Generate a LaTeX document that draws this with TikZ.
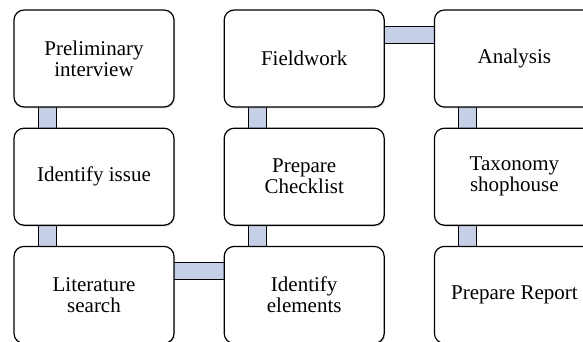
\documentclass[tikz,border=0pt]{standalone}
\usepackage{fontspec}
\setmainfont{Liberation Serif}
\usetikzlibrary{positioning,shadows,backgrounds}

\definecolor{linkblue}{RGB}{197,208,230}

\tikzset{
	stepbox/.style={draw, line width=1.2pt, rounded corners=10pt, fill=white,
		minimum width=160pt, minimum height=97pt, align=center,
		font=\fontsize{21}{21}\selectfont,
		drop shadow={shadow xshift=1pt, shadow yshift=-1.5pt, opacity=0.3}},
	link/.style={draw, line width=1.2pt, fill=linkblue}
}

\begin{document}
\begin{tikzpicture}[x=1pt,y=-1pt]

	\useasboundingbox (0,0) rectangle (583,342);

	% first column
	\node[stepbox] (prelim) at (94,58.5) {Preliminary\\interview};
	\node[stepbox, below=20pt of prelim] (issue) {Identify issue};
	\node[stepbox, below=20pt of issue] (lit) {Literature\\search};

	% second column
	\node[stepbox, right=49pt of prelim] (field) {Fieldwork};
	\node[stepbox, below=20pt of field] (check) {Prepare\\Checklist};
	\node[stepbox, below=20pt of check] (elem) {Identify\\elements};

	% third column
	\node[stepbox, right=49pt of field] (anal) {Analysis};
	\node[stepbox, below=20pt of anal] (taxo) {Taxonomy\\shophouse};
	\node[stepbox, below=20pt of taxo] (report) {Prepare Report};

	% links between the boxes
	\begin{scope}[on background layer]
		\draw[link] ([shift={(25pt,5pt)}]prelim.south west) rectangle ([shift={(43pt,-5pt)}]issue.north west);
		\draw[link] ([shift={(25pt,5pt)}]issue.south west) rectangle ([shift={(43pt,-5pt)}]lit.north west);
		\draw[link] ([shift={(-5pt,-17pt)}]lit.north east) rectangle ([shift={(5pt,-34pt)}]elem.north west);
		\draw[link] ([shift={(25pt,-5pt)}]elem.north west) rectangle ([shift={(43pt,5pt)}]check.south west);
		\draw[link] ([shift={(25pt,-5pt)}]check.north west) rectangle ([shift={(43pt,5pt)}]field.south west);
		\draw[link] ([shift={(-5pt,-17pt)}]field.north east) rectangle ([shift={(5pt,-34pt)}]anal.north west);
		\draw[link] ([shift={(25pt,5pt)}]anal.south west) rectangle ([shift={(43pt,-5pt)}]taxo.north west);
		\draw[link] ([shift={(25pt,5pt)}]taxo.south west) rectangle ([shift={(43pt,-5pt)}]report.north west);
	\end{scope}

\end{tikzpicture}
\end{document}
